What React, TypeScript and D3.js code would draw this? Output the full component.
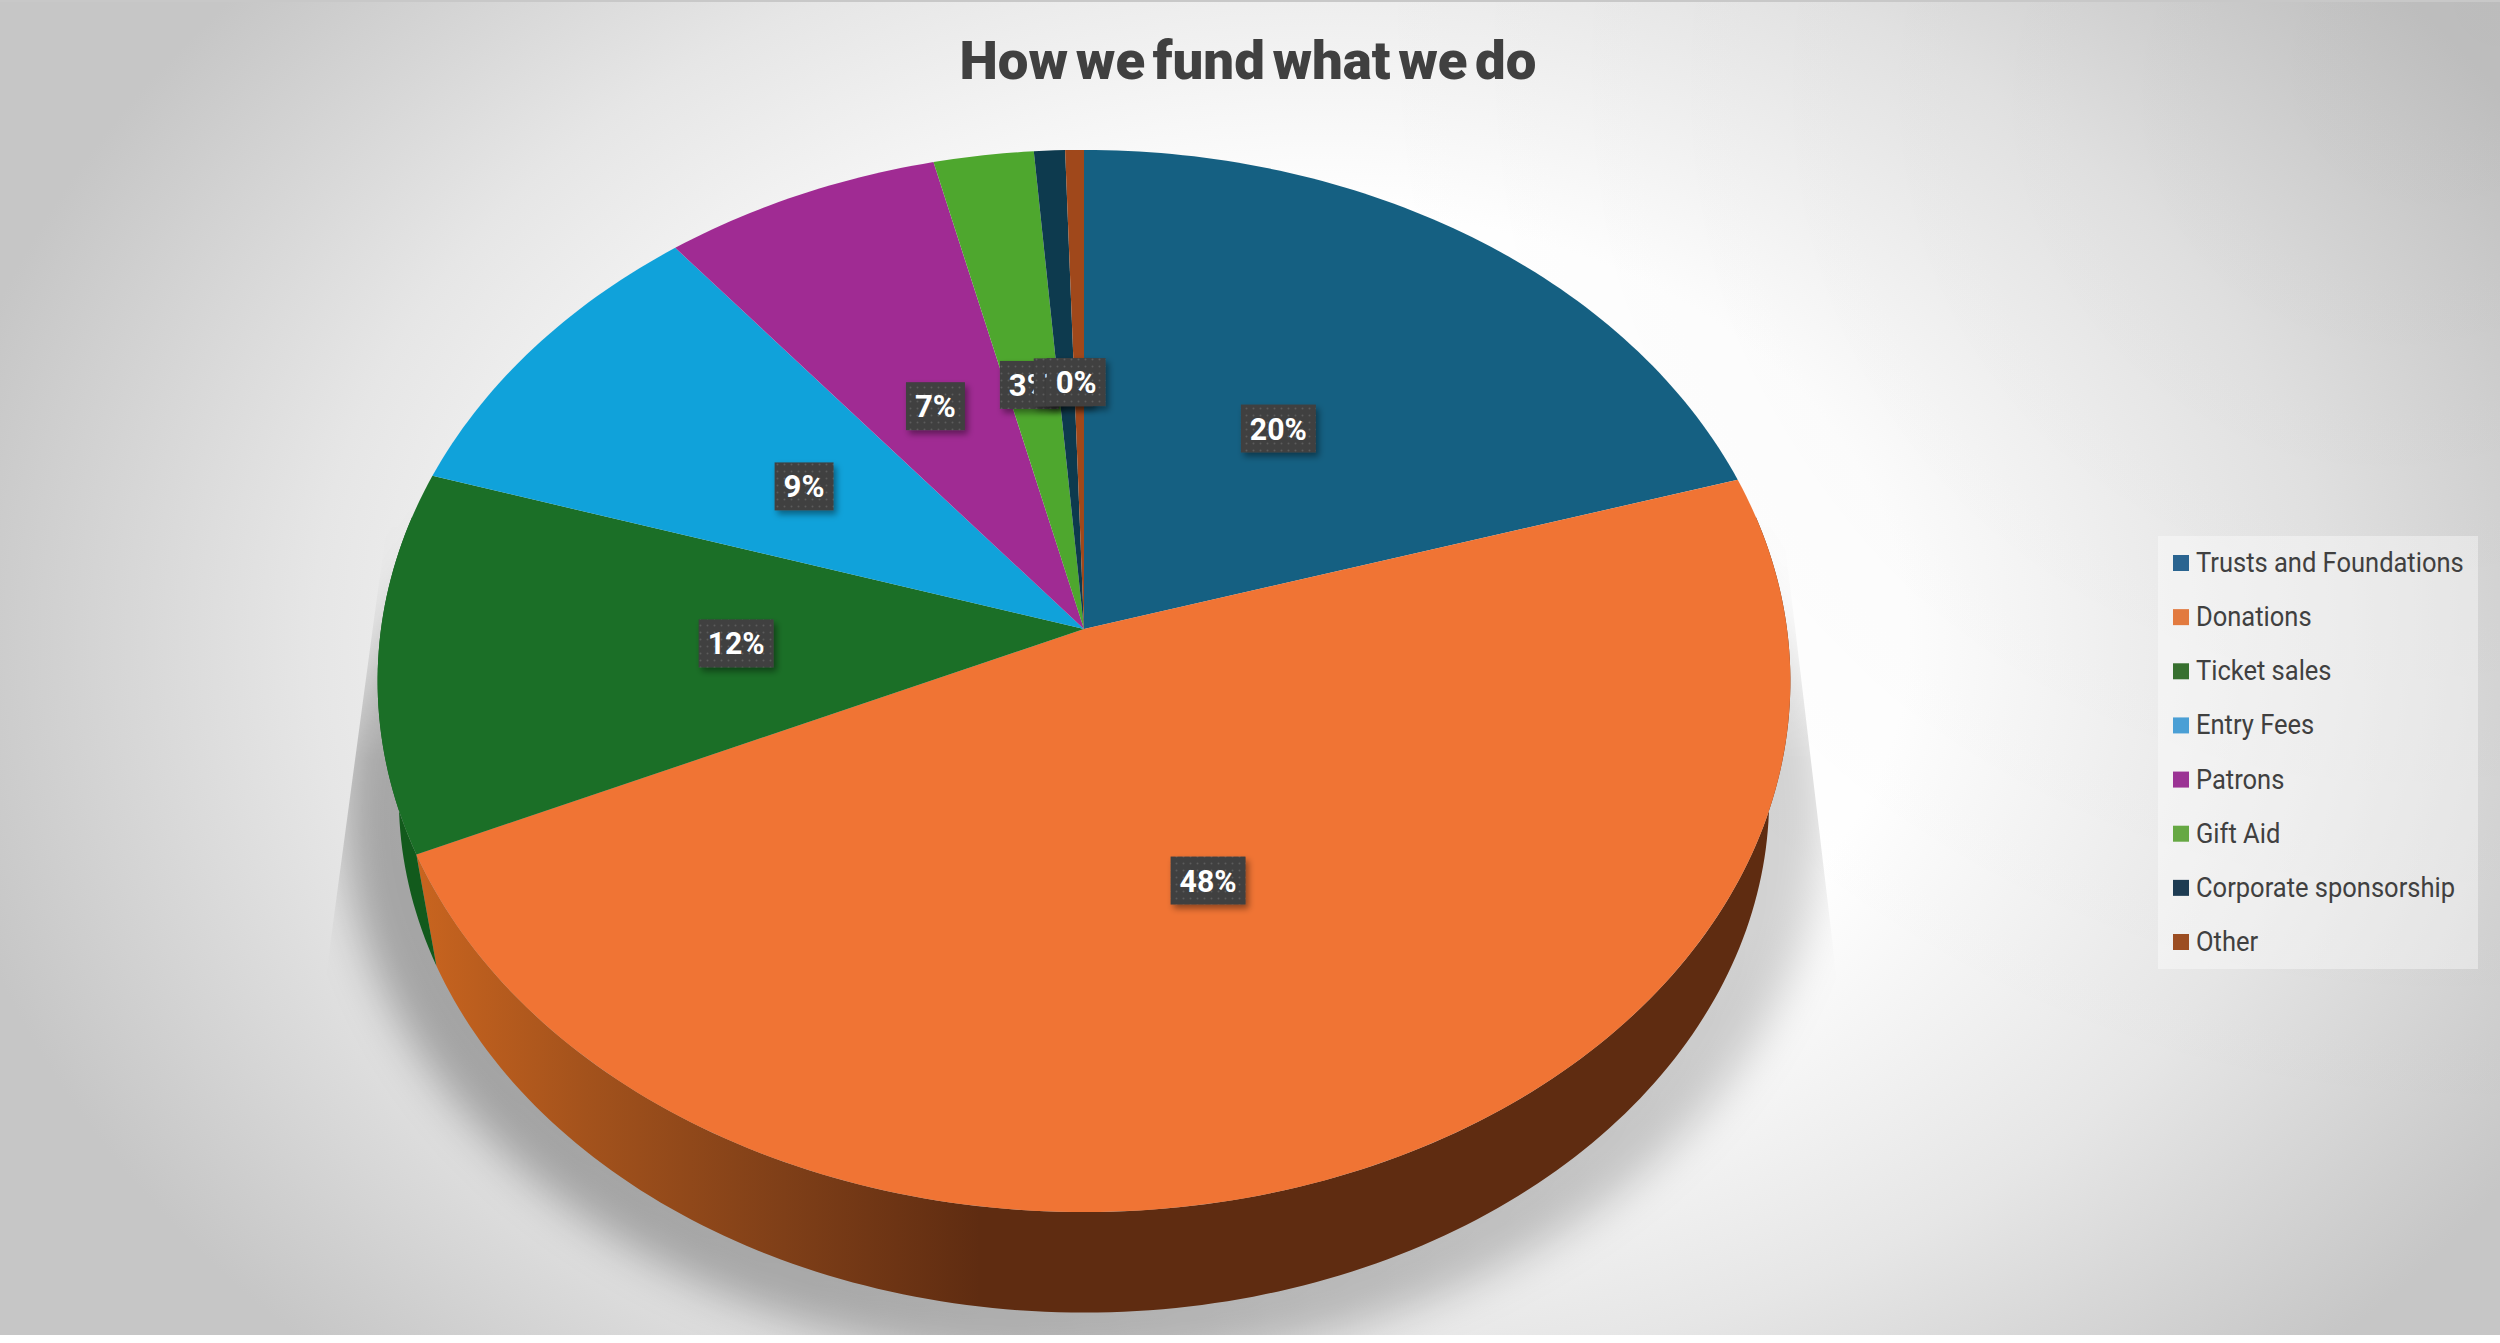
import * as d3 from "d3";

const WIDTH = 2500;
const HEIGHT = 1343;

const categories = ["Trusts and Foundations", "Donations", "Ticket sales", "Entry Fees", "Patrons", "Gift Aid", "Corporate sponsorship", "Other"];
const shares = [20.3, 48, 11.6, 9.4, 7, 2.52, 0.78, 0.47];
const faceColors = ["#156082", "#f07434", "#1b6f27", "#10a2da", "#a02b93", "#4ea72e", "#0d3a4e", "#a0481b"];
const wallColors = ["#0e4259", "#8a4518", "#125a1c", "#0b6f96", "#701e67", "#36751f", "#092836", "#5e2c10"];
const legendColors = ["#2a6490", "#e27a3f", "#37702f", "#4a9fd5", "#9b3394", "#66a843", "#1d3b52", "#9c4e22"];
const title = "How we fund what we do";

// perspective disc: unit circle -> screen, the centre lands on the apex and not on the ellipse centre
const apex = { x: 1084, y: 629 };
const radiusX = 703;
const radiusY = 526;
const tilt = 0.0979;
const wallScale = 0.97;
const wallDrop = 118;
const labelRadius = 0.49;

function project(angle: number, r = 1, scale = 1, drop = 0): [number, number] {
  const u = r * Math.sin(angle);
  const v = -r * Math.cos(angle);
  const w = 1 - tilt * v;
  return [apex.x + (scale * radiusX * u) / w, apex.y + drop + (scale * radiusY * v) / w];
}

const line = d3.line();
const pie = d3.pie<number>().sort(null).value((d) => d);
const arcs = pie(shares);

function sampleAngles(a0: number, a1: number) {
  const n = Math.max(2, Math.ceil(((a1 - a0) / Math.PI) * 180));
  return d3.range(n + 1).map((i) => a0 + ((a1 - a0) * i) / n);
}

function facePath(a0: number, a1: number) {
  return line([project(0, 0), ...sampleAngles(a0, a1).map((a) => project(a))]) + "Z";
}

function wallPath(a0: number, a1: number) {
  const angles = sampleAngles(a0, a1);
  return line([
    ...angles.map((a) => project(a)),
    ...angles.slice().reverse().map((a) => project(a, 1, wallScale, wallDrop)),
  ]) + "Z";
}

const rimAngles = sampleAngles(0, Math.PI * 2);
const shadowPath = line(rimAngles.map((a) => project(a, 1.08, wallScale, wallDrop))) + "Z";
const legendY = d3.scalePoint<string>().domain(categories).range([563, 942]);

export default function App() {
  return (
    <svg width={WIDTH} height={HEIGHT} viewBox={`0 0 ${WIDTH} ${HEIGHT}`} style={{ position: "absolute", left: 0, top: 0 }}>
      <defs>
        <radialGradient id="bg" gradientUnits="userSpaceOnUse" cx={0} cy={0} r={1}
          gradientTransform="translate(1320 640) scale(1400 1020)">
          <stop offset="0" stopColor="#ffffff" />
          <stop offset="0.42" stopColor="#ffffff" />
          <stop offset="0.72" stopColor="#e6e6e6" />
          <stop offset="1" stopColor="#c6c6c6" />
        </radialGradient>
        <radialGradient id="cornerDark" gradientUnits="userSpaceOnUse" cx={2500} cy={0} r={1150}>
          <stop offset="0" stopColor="#000" stopOpacity="0.05" />
          <stop offset="1" stopColor="#000" stopOpacity="0" />
        </radialGradient>
        <linearGradient id="donationWall" gradientUnits="userSpaceOnUse" x1={420} x2={980} y1={0} y2={0}>
          <stop offset="0" stopColor="#c8641f" />
          <stop offset="0.3" stopColor="#a3521c" />
          <stop offset="0.65" stopColor="#7f3f18" />
          <stop offset="1" stopColor="#5f2c11" />
        </linearGradient>
        <filter id="blur" x="-20%" y="-20%" width="140%" height="140%">
          <feGaussianBlur stdDeviation="22" />
        </filter>
        <filter id="labelShadow" x="-30%" y="-30%" width="170%" height="170%">
          <feDropShadow dx="3" dy="4" stdDeviation="3" floodColor="#000" floodOpacity="0.4" />
        </filter>
        <pattern id="dots" width="7" height="7" patternUnits="userSpaceOnUse">
          <rect width="7" height="7" fill="#404040" />
          <circle cx="3.5" cy="3.5" r="1" fill="#5c5c5c" />
        </pattern>
        <clipPath id="shadowClip">
          <path d="M395 463L327 968L300 1335H1900L1837 980L1780 500Z" />
        </clipPath>
        <linearGradient id="shadowFade" gradientUnits="userSpaceOnUse" x1={400} y1={1300} x2={1800} y2={800}>
          <stop offset="0" stopColor="#000" stopOpacity="0.3" />
          <stop offset="1" stopColor="#000" stopOpacity="0.17" />
        </linearGradient>
        <linearGradient id="topFade" gradientUnits="userSpaceOnUse" x1={0} x2={0} y1={450} y2={760}>
          <stop offset="0" stopColor="#000" />
          <stop offset="1" stopColor="#fff" />
        </linearGradient>
        <mask id="shadowMask" maskUnits="userSpaceOnUse" x={0} y={0} width={WIDTH} height={HEIGHT}>
          <rect width={WIDTH} height={HEIGHT} fill="url(#topFade)" />
        </mask>
      </defs>

      <rect width={WIDTH} height={HEIGHT} fill="#ffffff" />
      <rect width={WIDTH} height={1335} fill="url(#bg)" />
      <rect width={WIDTH} height={1335} fill="url(#cornerDark)" />
      <rect width={WIDTH} height={2} fill="#c8c8c8" />

      <g clipPath="url(#shadowClip)" mask="url(#shadowMask)">
        <path d={shadowPath} fill="url(#shadowFade)" filter="url(#blur)" />
      </g>

      {arcs.map((d, i) => {
        // only the part of the rim facing the viewer has a wall
        const a0 = Math.max(d.startAngle, Math.PI / 2 - 0.22);
        const a1 = Math.min(d.endAngle, (Math.PI * 3) / 2 + 0.22);
        if (a1 <= a0) return null;
        return <path key={i} d={wallPath(a0, a1)} fill={i === 1 ? "url(#donationWall)" : wallColors[i]} />;
      })}

      {arcs.map((d, i) => (
        <path key={i} d={facePath(d.startAngle, d.endAngle)} fill={faceColors[i]} />
      ))}

      {arcs.map((d, i) => {
        const [x, y] = project((d.startAngle + d.endAngle) / 2, labelRadius);
        const text = `${Math.round(d.value)}%`;
        const w = text.length > 2 ? 75 : 59;
        return (
          <g key={i} transform="translate(-3 -1)">
            <rect x={x - w / 2} y={y - 24} width={w} height={48} fill="url(#dots)" filter="url(#labelShadow)" />
            <text x={x} y={y + 11} textAnchor="middle" fontFamily="Roboto" fontWeight={700} fontSize={31} fill="#ffffff"
              textLength={text.length > 2 ? 57 : 41} lengthAdjust="spacingAndGlyphs">
              {text}
            </text>
          </g>
        );
      })}

      <text x={1248} y={79} textAnchor="middle" fontFamily="Roboto" fontWeight={900} fontSize={54} fill="#404040"
        wordSpacing={-6} textLength={577} lengthAdjust="spacingAndGlyphs">
        {title}
      </text>

      <rect x={2158} y={536} width={320} height={433} fill="#ffffff" fillOpacity={0.4} />
      {categories.map((name, i) => (
        <g key={name} transform={`translate(2173 ${legendY(name)})`}>
          <rect x={0} y={-8} width={16} height={16} fill={legendColors[i]} />
          <text x={0} y={9} transform="translate(23 0) scale(0.945 1)" fontFamily="Roboto" fontSize={27} fill="#404040">
            {name}
          </text>
        </g>
      ))}
    </svg>
  );
}
